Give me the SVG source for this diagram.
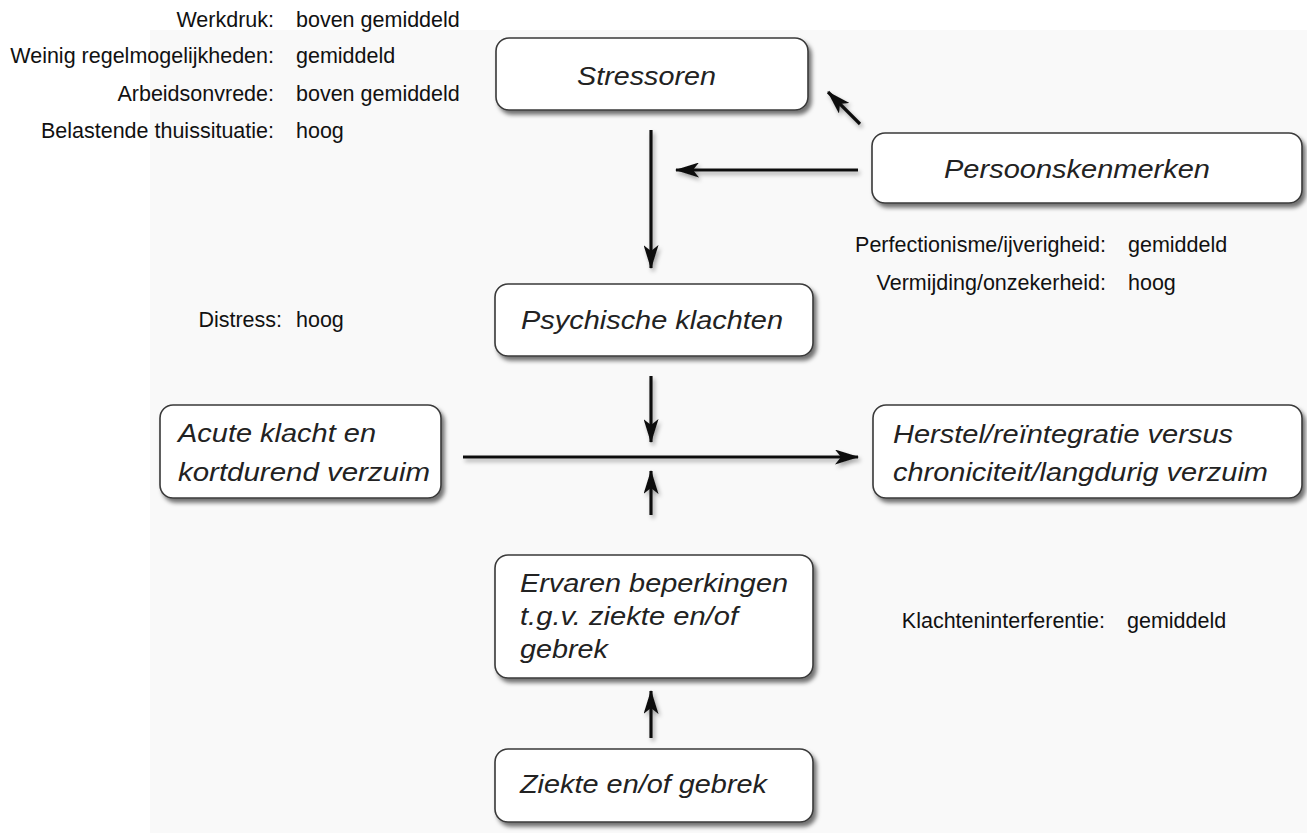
<svg xmlns="http://www.w3.org/2000/svg" width="1307" height="833" viewBox="0 0 1307 833">
<defs>
<style>
.box{fill:#ffffff;stroke:#3a3a3a;stroke-width:1.6;filter:url(#sh)}
.nt{font-family:"Liberation Sans",Arial,sans-serif;font-style:italic;font-size:26px;fill:#222}
.an{font-family:"Liberation Sans",Arial,sans-serif;font-size:21.5px;fill:#111}
.lb{text-anchor:end}
.arr{stroke:#111;stroke-width:3.2;fill:none;marker-end:url(#ah);filter:url(#ash)}
</style>
<filter id="sh" x="-10%" y="-20%" width="125%" height="150%">
<feDropShadow dx="3" dy="4" stdDeviation="2.2" flood-color="#000" flood-opacity="0.55"/>
</filter>
<filter id="ash" filterUnits="userSpaceOnUse" x="0" y="0" width="1307" height="833">
<feDropShadow dx="2" dy="3" stdDeviation="2" flood-color="#000" flood-opacity="0.35"/>
</filter>
<marker id="ah" viewBox="0 0 24 15" refX="23" refY="7.5" markerWidth="24" markerHeight="15" markerUnits="userSpaceOnUse" orient="auto">
<path d="M0,0 L24,7.5 L0,15 L6,7.5 z" fill="#111"/>
</marker>
</defs>
<rect x="0" y="0" width="1307" height="833" fill="#ffffff"/>
<rect x="150" y="30" width="1157" height="803" fill="#f9f9f9"/>

<g id="annotations">
<text class="an lb" x="274" y="27">Werkdruk:</text>
<text class="an" x="296" y="27">boven gemiddeld</text>
<text class="an lb" x="274" y="63">Weinig regelmogelijkheden:</text>
<text class="an" x="296" y="63">gemiddeld</text>
<text class="an lb" x="274" y="101">Arbeidsonvrede:</text>
<text class="an" x="296" y="101">boven gemiddeld</text>
<text class="an lb" x="274" y="138">Belastende thuissituatie:</text>
<text class="an" x="296" y="138">hoog</text>
<text class="an lb" x="1106" y="252">Perfectionisme/ijverigheid:</text>
<text class="an" x="1128" y="252">gemiddeld</text>
<text class="an lb" x="1106" y="290">Vermijding/onzekerheid:</text>
<text class="an" x="1128" y="290">hoog</text>
<text class="an lb" x="282" y="327">Distress:</text>
<text class="an" x="296" y="327">hoog</text>
<text class="an lb" x="1105" y="628">Klachteninterferentie:</text>
<text class="an" x="1127" y="628">gemiddeld</text>
</g>

<g id="connectors">
<path class="arr" d="M651,130 L651,268"/>
<path class="arr" d="M858,170 L676,170"/>
<path class="arr" d="M860,124 L828,92"/>
<path class="arr" d="M651,376 L651,442"/>
<path class="arr" d="M463,457 L858,457"/>
<path class="arr" d="M651,515 L651,471"/>
<path class="arr" d="M651,738 L651,691"/>
</g>

<g id="stressoren">
<rect class="box" x="496" y="38" width="312" height="72" rx="13"/>
<text class="nt" x="577" y="85" textLength="139" lengthAdjust="spacingAndGlyphs">Stressoren</text>
</g>
<g id="persoonskenmerken">
<rect class="box" x="872" y="133" width="430" height="70" rx="13"/>
<text class="nt" x="944" y="178" textLength="266" lengthAdjust="spacingAndGlyphs">Persoonskenmerken</text>
</g>
<g id="psychische-klachten">
<rect class="box" x="495" y="284" width="318" height="72" rx="13"/>
<text class="nt" x="521" y="329" textLength="262" lengthAdjust="spacingAndGlyphs">Psychische klachten</text>
</g>
<g id="acute-klacht">
<rect class="box" x="160" y="405" width="281" height="93" rx="13"/>
<text class="nt" x="178" y="442" textLength="198" lengthAdjust="spacingAndGlyphs">Acute klacht en</text>
<text class="nt" x="178" y="481" textLength="252" lengthAdjust="spacingAndGlyphs">kortdurend verzuim</text>
</g>
<g id="herstel">
<rect class="box" x="873" y="405" width="429" height="93" rx="13"/>
<text class="nt" x="893" y="443" textLength="340" lengthAdjust="spacingAndGlyphs">Herstel/reïntegratie versus</text>
<text class="nt" x="893" y="481" textLength="375" lengthAdjust="spacingAndGlyphs">chroniciteit/langdurig verzuim</text>
</g>
<g id="ervaren-beperkingen">
<rect class="box" x="495" y="555" width="318" height="123" rx="13"/>
<text class="nt" x="520" y="592" textLength="268" lengthAdjust="spacingAndGlyphs">Ervaren beperkingen</text>
<text class="nt" x="520" y="625" textLength="218" lengthAdjust="spacingAndGlyphs">t.g.v. ziekte en/of</text>
<text class="nt" x="520" y="658" textLength="88" lengthAdjust="spacingAndGlyphs">gebrek</text>
</g>
<g id="ziekte">
<rect class="box" x="495" y="749" width="318" height="73" rx="13"/>
<text class="nt" x="520" y="793" textLength="247" lengthAdjust="spacingAndGlyphs">Ziekte en/of gebrek</text>
</g>
</svg>
